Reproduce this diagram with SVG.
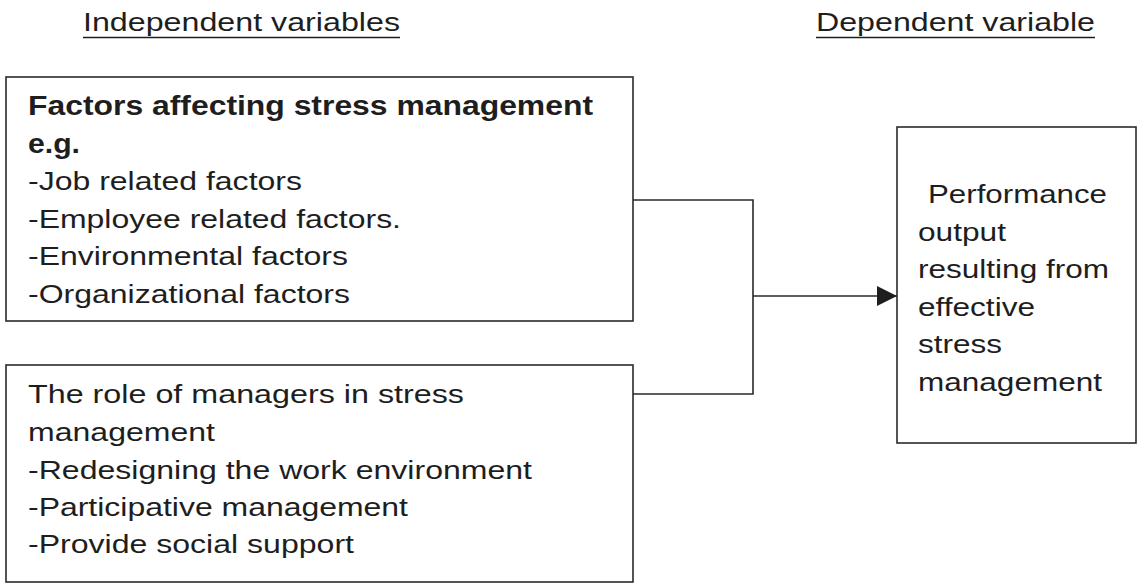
<svg xmlns="http://www.w3.org/2000/svg" width="1137" height="584" viewBox="0 0 1137 584">
<style>
.box{fill:#fff;stroke:#2a2a2a;stroke-width:1.6}
.t{font-family:"Liberation Sans",Arial,sans-serif;font-size:25px;fill:#1e1e1e}
.b{font-family:"Liberation Sans",Arial,sans-serif;font-size:28px;font-weight:bold;fill:#1e1e1e}
.ln{fill:none;stroke:#2a2a2a;stroke-width:1.6}
.ul{stroke:#1e1e1e;stroke-width:1.6}
</style>
<defs>
<marker id="arr" markerWidth="20" markerHeight="20" refX="20" refY="10" orient="auto" markerUnits="userSpaceOnUse">
<path d="M0,0 L20,10 L0,20 Z" fill="#1e1e1e"/>
</marker>
</defs>
<rect width="1137" height="584" fill="#fff"/>
<g id="headings">
<text class="t" x="83" y="31" textLength="317" lengthAdjust="spacingAndGlyphs">Independent variables</text>
<line class="ul" x1="83" y1="37.5" x2="400" y2="37.5"/>
<text class="t" x="816" y="31" textLength="279" lengthAdjust="spacingAndGlyphs">Dependent variable</text>
<line class="ul" x1="816" y1="37.5" x2="1095" y2="37.5"/>
</g>
<g id="factors">
<rect class="box" x="6" y="77" width="627" height="244"/>
<text class="b" x="28" y="115" textLength="565" lengthAdjust="spacingAndGlyphs">Factors affecting stress management</text>
<text class="b" x="28" y="152.5" textLength="52" lengthAdjust="spacingAndGlyphs">e.g.</text>
<text class="t" x="28" y="190" textLength="274" lengthAdjust="spacingAndGlyphs">-Job related factors</text>
<text class="t" x="28" y="227.5" textLength="373" lengthAdjust="spacingAndGlyphs">-Employee related factors.</text>
<text class="t" x="28" y="265" textLength="320" lengthAdjust="spacingAndGlyphs">-Environmental factors</text>
<text class="t" x="28" y="302.5" textLength="322" lengthAdjust="spacingAndGlyphs">-Organizational factors</text>
</g>
<g id="managers">
<rect class="box" x="6" y="365" width="627" height="217"/>
<text class="t" x="28" y="403" textLength="436" lengthAdjust="spacingAndGlyphs">The role of managers in stress</text>
<text class="t" x="28" y="441" textLength="187" lengthAdjust="spacingAndGlyphs">management</text>
<text class="t" x="28" y="479" textLength="504" lengthAdjust="spacingAndGlyphs">-Redesigning the work environment</text>
<text class="t" x="28" y="516" textLength="380" lengthAdjust="spacingAndGlyphs">-Participative management</text>
<text class="t" x="28" y="553" textLength="326" lengthAdjust="spacingAndGlyphs">-Provide social support</text>
</g>
<g id="performance">
<rect class="box" x="897" y="127" width="239" height="316"/>
<text class="t" x="928" y="203" textLength="179" lengthAdjust="spacingAndGlyphs">Performance</text>
<text class="t" x="918" y="240.5" textLength="88" lengthAdjust="spacingAndGlyphs">output</text>
<text class="t" x="918" y="278" textLength="191" lengthAdjust="spacingAndGlyphs">resulting from</text>
<text class="t" x="918" y="315.5" textLength="117" lengthAdjust="spacingAndGlyphs">effective</text>
<text class="t" x="918" y="353" textLength="84" lengthAdjust="spacingAndGlyphs">stress</text>
<text class="t" x="918" y="390.5" textLength="184" lengthAdjust="spacingAndGlyphs">management</text>
</g>
<g id="connectors">
<path class="ln" d="M633,200 H753 V394 H633"/>
<line class="ln" x1="753" y1="296" x2="897" y2="296" marker-end="url(#arr)"/>
</g>
</svg>
